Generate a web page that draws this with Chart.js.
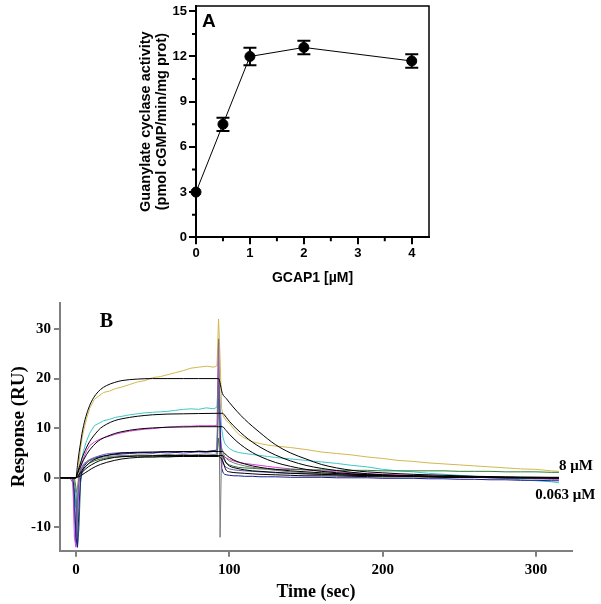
<!DOCTYPE html>
<html>
<head>
<meta charset="utf-8">
<script src="https://cdn.jsdelivr.net/npm/chart.js@4.4.1/dist/chart.umd.min.js"></script>
<style>
  body { margin: 0; background: #fff; }
  #wrap { position: relative; width: 601px; height: 604px; }
  canvas { position: absolute; left: 0; }
  #chart-a { top: 0; }
  #chart-b { top: 292px; }
</style>
</head>
<body>
<div id="wrap">
  <canvas id="chart-a" width="601" height="292"></canvas>
  <canvas id="chart-b" width="601" height="312"></canvas>
</div>
<script>
// ---- panel A: GC activity vs GCAP1 ----
const gcapConc = [0, 0.5, 1, 2, 4];
const gcActivity = [3.0, 7.5, 12.0, 12.6, 11.7];
const gcError = [0, 0.44, 0.58, 0.45, 0.44];
const ticksAx = [0, 1, 2, 3, 4];
const ticksAy = [0, 3, 6, 9, 12, 15];
const minorAx = [0.5, 1.5, 2.5, 3.5];
const minorAy = [1.5, 4.5, 7.5, 10.5, 13.5];

// ---- panel B: sensorgrams ----
const ticksBx = [0, 100, 200, 300];
const ticksBy = [-10, 0, 10, 20, 30];

const timeRaw = [-10, -4, -2, -1, 0, 1, 2, 3, 4, 5,
  7, 9, 12, 15, 18, 22, 26, 30, 35, 40,
  45, 50, 55, 60, 65, 70, 75, 80, 85, 90,
  92, 93, 94, 95, 96, 97, 98, 100, 103, 106,
  110, 115, 120, 125, 130, 140, 150, 160, 170, 180,
  190, 200, 210, 220, 230, 240, 250, 260, 270, 280,
  290, 300, 310, 315];

const rawYellow = [0, 0, -0.5, -9, -10, -3, 3, 6, 8, 9.5,
  12, 14, 15.8, 16.5, 17.2, 17.5, 18, 18.3, 18.8, 19.3,
  19.6, 20.2, 20.4, 20.8, 21.2, 21.6, 22.1, 22.3, 22.5, 22.3,
  22.6, 32, 24, 14, 12.5, 12, 11.5, 11, 9.8, 8.8,
  8, 7.3, 6.9, 6.6, 6.4, 6.1, 5.7, 5.2, 4.9, 4.6,
  4.2, 3.9, 3.5, 3.3, 3.0, 2.8, 2.6, 2.4, 2.2, 2.0,
  1.8, 1.7, 1.4, 1.3];

const rawCyan = [0, 0, 0, -2, -6, -4, 0, 2.5, 4, 5.5,
  7.5, 9, 10.5, 11, 11.5, 11.8, 12.2, 12.4, 12.7, 12.9,
  13.1, 13.2, 13.3, 13.4, 13.6, 13.8, 13.9, 13.8, 14.1, 13.9,
  14.3, 22, 15, 10, 8, 7, 6.6, 5.9, 5.4, 5.1,
  4.9, 4.7, 4.5, 4.3, 4.1, 3.8, 3.5, 3.2, 2.9, 2.5,
  2.2, 1.7, 1.4, 1.2, 0.9, 0.7, 0.5, 0.3, 0.1, -0.1,
  -0.4, -0.6, -0.8, -1.0];

const rawMagenta = [0, 0, -1, -12, -14, -8, -1, 2, 3, 4,
  5.5, 6.5, 7.2, 7.7, 8.1, 8.4, 8.8, 9.1, 9.4, 9.6,
  9.8, 9.9, 10.1, 10.2, 10.3, 10.4, 10.4, 10.5, 10.5, 10.5,
  10.6, 28, 12, 2, 4.5, 4.2, 4, 3.7, 3.4, 3.1,
  2.9, 2.7, 2.5, 2.3, 2.1, 1.8, 1.6, 1.4, 1.2, 1.0,
  0.8, 0.7, 0.6, 0.5, 0.4, 0.3, 0.2, 0.2, 0.1, 0,
  -0.1, -0.2, -0.3, -0.3];

const rawPurple = [0, 0, 0, -6, -13, -5, 0, 1.5, 2.2, 2.8,
  3.3, 3.7, 4.1, 4.4, 4.7, 4.9, 5.0, 5.1, 5.0, 5.1,
  5.0, 5.0, 5.1, 5.0, 5.1, 5.0, 5.1, 5.2, 5.1, 5.3,
  5.2, 16, 9, 4, 3, 2.4, 2.1, 1.8, 1.6, 1.5,
  1.4, 1.3, 1.2, 1.1, 1.0, 0.9, 0.8, 0.7, 0.6, 0.5,
  0.4, 0.4, 0.3, 0.3, 0.2, 0.2, 0.1, 0.1, 0, 0,
  -0.1, -0.1, -0.2, -0.2];

const rawBlue = [0, 0, 0, -3, -12, -14, -6, 0, 1.5, 2.2,
  3, 3.5, 3.9, 4.2, 4.4, 4.6, 4.7, 4.8, 4.9, 5.0,
  5.1, 5.0, 5.2, 5.3, 5.1, 5.3, 5.2, 5.4, 5.3, 5.5,
  5.6, 20, 10, 2, 1.0, 0.7, 0.6, 0.5, 0.4, 0.4,
  0.3, 0.3, 0.2, 0.2, 0.2, 0.1, 0.1, 0.1, 0, 0,
  0, -0.1, -0.1, -0.1, -0.2, -0.2, -0.3, -0.3, -0.4, -0.4,
  -0.5, -0.5, -0.6, -0.6];

const rawGreen = [0, 0, 0, 0, -2, -14, -10, -1, 1, 1.8,
  2.5, 3, 3.4, 3.7, 3.9, 4.1, 4.2, 4.3, 4.3, 4.4,
  4.3, 4.2, 4.3, 4.2, 4.3, 4.4, 4.3, 4.4, 4.5, 4.4,
  4.5, 8, 5, 5, 4, 3.4, 3.0, 2.6, 2.3, 2.1,
  2.0, 1.9, 1.8, 1.8, 1.7, 1.7, 1.6, 1.6, 1.5, 1.5,
  1.5, 1.4, 1.4, 1.4, 1.4, 1.4, 1.3, 1.3, 1.3, 1.2,
  1.2, 1.2, 1.1, 1.1];

const rawGray = [0, 0, 0, -1, -3, -2, 0, 1.2, 2, 2.5,
  3.1, 3.5, 3.8, 4.0, 4.2, 4.3, 4.4, 4.5, 4.5, 4.6,
  4.6, 4.5, 4.6, 4.7, 4.6, 4.7, 4.6, 4.7, 4.8, 4.7,
  4.8, 28, -12, 6, 5, 4.3, 3.9, 3.4, 3.0, 2.7,
  2.4, 2.1, 1.9, 1.7, 1.5, 1.2, 1.0, 0.8, 0.7, 0.6,
  0.5, 0.4, 0.3, 0.3, 0.2, 0.2, 0.1, 0.1, 0, 0,
  0, -0.1, -0.1, -0.1];

const timeFit = [-10, 0, 1, 2, 3, 4, 6, 8, 10, 13,
  16, 20, 25, 30, 40, 50, 60, 70, 80, 93,
  95.5, 98, 100, 105, 110, 115, 120, 130, 140, 150,
  160, 180, 200, 220, 240, 260, 280, 300, 315];

const fit8 = [0, 0, 2.5, 5, 7, 9, 11.8, 13.8, 15.3, 16.8,
  17.8, 18.6, 19.2, 19.6, 19.9, 20, 20, 20, 20, 20,
  17, 16, 15.2, 13.4, 11.8, 10.4, 9.1, 6.7, 5.0, 3.8,
  2.7, 1.5, 1.0, 0.7, 0.5, 0.3, 0.2, 0.1, 0.1];
const fit4 = [0, 0, 1, 2, 3, 4, 5.5, 6.8, 7.8, 9,
  10, 10.8, 11.5, 11.9, 12.4, 12.7, 12.85, 12.9, 12.95, 13,
  13, 12.2, 11.4, 9.8, 8.4, 7.2, 6.2, 4.6, 3.4, 2.5,
  1.9, 1.1, 0.6, 0.4, 0.2, 0.1, 0.05, 0, 0];
const fit2 = [0, 0, 0.8, 1.6, 2.3, 3, 4.2, 5.2, 6, 7,
  7.7, 8.3, 8.9, 9.3, 9.8, 10.05, 10.2, 10.25, 10.3, 10.3,
  10.3, 9.5, 8.8, 7.3, 6.1, 5.1, 4.3, 3.1, 2.3, 1.7,
  1.3, 0.8, 0.5, 0.3, 0.2, 0.1, 0, 0, -0.1];
const fit05 = [0, 0, 0.3, 0.7, 1.1, 1.5, 2.2, 2.8, 3.3, 3.8,
  4.2, 4.5, 4.8, 5.0, 5.15, 5.2, 5.25, 5.3, 5.3, 5.3,
  5.3, 4.6, 4.1, 3.3, 2.8, 2.4, 2.1, 1.7, 1.4, 1.2,
  1.0, 0.7, 0.5, 0.4, 0.3, 0.2, 0.1, 0.1, 0];
const fit025 = [0, 0, 0.2, 0.5, 0.8, 1.1, 1.7, 2.2, 2.6, 3.1,
  3.5, 3.8, 4.1, 4.25, 4.4, 4.45, 4.5, 4.5, 4.5, 4.5,
  4.5, 3.0, 2.4, 1.9, 1.6, 1.4, 1.3, 1.1, 0.9, 0.8,
  0.7, 0.5, 0.4, 0.3, 0.2, 0.1, 0.1, 0, 0];
const fit0063 = [0, 0, 0.1, 0.2, 0.4, 0.6, 1.0, 1.4, 1.8, 2.3,
  2.7, 3.1, 3.5, 3.8, 4.1, 4.2, 4.25, 4.3, 4.3, 4.3,
  3.5, 1.5, 1.2, 1.0, 0.9, 0.8, 0.7, 0.6, 0.5, 0.4,
  0.4, 0.3, 0.2, 0.2, 0.1, 0.1, 0, 0, 0];

const sans = "'Liberation Sans', Arial, sans-serif";
const serif = "'Liberation Serif', 'Times New Roman', serif";

function pairs(xs, ys) {
  return ys.map((v, i) => ({ x: xs[i], y: v }));
}

// error bars + box + minor ticks for panel A
const panelA = {
  id: "panelA",
  beforeDatasetsDraw(chart) {
    const { ctx, scales: { x, y } } = chart;
    ctx.save();
    ctx.strokeStyle = "#000";
    ctx.lineWidth = 2;
    gcapConc.forEach((c, i) => {
      if (!gcError[i]) return;
      const px = x.getPixelForValue(c);
      const top = y.getPixelForValue(gcActivity[i] + gcError[i]);
      const bot = y.getPixelForValue(gcActivity[i] - gcError[i]);
      ctx.beginPath();
      ctx.moveTo(px, top); ctx.lineTo(px, bot);
      ctx.moveTo(px - 6.5, top); ctx.lineTo(px + 6.5, top);
      ctx.moveTo(px - 6.5, bot); ctx.lineTo(px + 6.5, bot);
      ctx.stroke();
    });
    ctx.restore();
  },
  afterDraw(chart) {
    const { ctx, chartArea: a, scales: { x, y } } = chart;
    ctx.save();
    ctx.strokeStyle = "#000";
    ctx.lineWidth = 1.5;
    ctx.beginPath();
    ctx.moveTo(a.left, a.top); ctx.lineTo(a.right, a.top); ctx.lineTo(a.right, a.bottom);
    ctx.stroke();
    ctx.lineWidth = 2;
    ctx.beginPath();
    minorAx.forEach(v => {
      const px = x.getPixelForValue(v);
      ctx.moveTo(px, a.bottom); ctx.lineTo(px, a.bottom + 4);
    });
    minorAy.forEach(v => {
      const py = y.getPixelForValue(v);
      ctx.moveTo(a.left, py); ctx.lineTo(a.left - 4, py);
    });
    ctx.stroke();
    ctx.fillStyle = "#000";
    ctx.font = "bold 19px " + sans;
    ctx.textBaseline = "middle";
    ctx.fillText("A", x.getPixelForValue(0.11), y.getPixelForValue(14.3));
    ctx.restore();
  }
};

const panelB = {
  id: "panelB",
  afterDraw(chart) {
    const { ctx, scales: { x, y } } = chart;
    ctx.save();
    ctx.fillStyle = "#000";
    ctx.textBaseline = "middle";
    ctx.font = "bold 20px " + serif;
    ctx.fillText("B", x.getPixelForValue(15.5), y.getPixelForValue(31.4));
    ctx.font = "bold 15px " + serif;
    ctx.fillText("8 μM", x.getPixelForValue(315), y.getPixelForValue(2.4));
    ctx.fillText("0.063 μM", x.getPixelForValue(299.5), y.getPixelForValue(-3.5));
    ctx.restore();
  }
};

new Chart(document.getElementById("chart-a"), {
  type: "scatter",
  data: {
    datasets: [{
      data: pairs(gcapConc, gcActivity),
      showLine: true,
      borderColor: "#000",
      borderWidth: 1,
      pointRadius: 5,
      pointBackgroundColor: "#000",
      pointBorderColor: "#000",
      clip: false,
    }],
  },
  options: {
    responsive: false,
    animation: false,
    layout: { padding: { left: 135, right: 172, top: 4, bottom: 3.6 } },
    plugins: { legend: { display: false }, tooltip: { enabled: false } },
    scales: {
      x: {
        type: "linear",
        min: 0,
        max: 4.32,
        afterBuildTicks: s => { s.ticks = ticksAx.map(v => ({ value: v })); },
        afterFit: s => { s.height = 51.1; s.paddingLeft = 0; s.paddingRight = 0; },
        grid: { drawOnChartArea: false, color: "#000", lineWidth: 2, tickLength: 7 },
        border: { color: "#000", width: 2 },
        ticks: { color: "#000", padding: 1, maxRotation: 0, font: { family: sans, weight: "bold", size: 13 } },
        title: {
          display: true,
          text: "GCAP1 [µM]",
          color: "#000",
          padding: { top: 2, bottom: 2 },
          font: { family: sans, weight: "bold", size: 14 },
        },
      },
      y: {
        min: 0,
        max: 15.35,
        afterBuildTicks: s => { s.ticks = ticksAy.map(v => ({ value: v })); },
        afterFit: s => { s.width = 61; s.paddingTop = 0; s.paddingBottom = 0; },
        grid: { drawOnChartArea: false, color: "#000", lineWidth: 2, tickLength: 7 },
        border: { color: "#000", width: 2 },
        ticks: { color: "#000", padding: 2, font: { family: sans, weight: "bold", size: 13 } },
        title: {
          display: true,
          text: ["Guanylate cyclase activity", "(pmol cGMP/min/mg prot)"],
          color: "#000",
          padding: { top: 3, bottom: 3 },
          font: { family: sans, weight: "bold", size: 14.5, lineHeight: 1.12 },
        },
      },
    },
  },
  plugins: [panelA],
});

const rawStyle = (data, color) => ({
  data: pairs(timeRaw, data),
  borderColor: color,
  borderWidth: 1,
  pointRadius: 0,
  tension: 0,
  showLine: true,
});
const fitStyle = data => ({
  data: pairs(timeFit, data),
  borderColor: "#000",
  borderWidth: 1,
  pointRadius: 0,
  cubicInterpolationMode: "monotone",
  showLine: true,
});

new Chart(document.getElementById("chart-b"), {
  type: "scatter",
  data: {
    datasets: [
      fitStyle(fit8),
      fitStyle(fit4),
      fitStyle(fit2),
      fitStyle(fit05),
      fitStyle(fit025),
      fitStyle(fit0063),
      rawStyle(rawGray, "#7a7a7a"),
      rawStyle(rawBlue, "#1a1a90"),
      rawStyle(rawPurple, "#6a56b8"),
      rawStyle(rawGreen, "#2a7a3a"),
      rawStyle(rawMagenta, "#d83cd8"),
      rawStyle(rawCyan, "#3cc8c8"),
      rawStyle(rawYellow, "#d2b850"),
    ],
  },
  options: {
    responsive: false,
    animation: false,
    layout: { padding: { left: 4, right: 29, top: 10.7, bottom: 0 } },
    plugins: { legend: { display: false }, tooltip: { enabled: false } },
    scales: {
      x: {
        type: "linear",
        min: -10.4,
        max: 323.5,
        afterBuildTicks: s => { s.ticks = ticksBx.map(v => ({ value: v })); },
        afterFit: s => { s.height = 53.3; s.paddingLeft = 0; s.paddingRight = 0; },
        grid: { drawOnChartArea: false, color: "#808080", lineWidth: 2, tickLength: 6 },
        border: { color: "#808080", width: 2 },
        ticks: { color: "#000", padding: 4, maxRotation: 0, font: { family: serif, weight: "bold", size: 15 } },
        title: {
          display: true,
          text: "Time (sec)",
          color: "#000",
          padding: { top: 4, bottom: 1 },
          font: { family: serif, weight: "bold", size: 18 },
        },
      },
      y: {
        min: -14.7,
        max: 35.3,
        afterBuildTicks: s => { s.ticks = ticksBy.map(v => ({ value: v })); },
        afterFit: s => { s.width = 56; s.paddingTop = 0; s.paddingBottom = 0; },
        grid: { drawOnChartArea: false, color: "#808080", lineWidth: 2, tickLength: 6 },
        border: { color: "#808080", width: 2 },
        ticks: { color: "#000", padding: 3, font: { family: serif, weight: "bold", size: 15 } },
        title: {
          display: true,
          text: "Response (RU)",
          color: "#000",
          padding: { top: 4, bottom: 4 },
          font: { family: serif, weight: "bold", size: 19 },
        },
      },
    },
  },
  plugins: [panelB],
});
</script>
</body>
</html>
